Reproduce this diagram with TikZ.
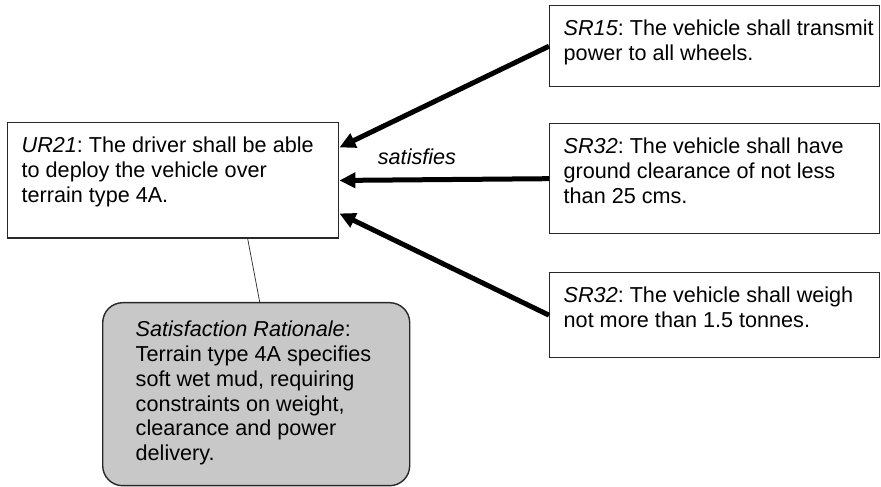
\documentclass[tikz,border=0pt]{standalone}
\usepackage{fontspec}
\setmainfont{Liberation Sans}
\usepackage{tikz}
\usetikzlibrary{arrows.meta,positioning,calc}

\definecolor{boxline}{RGB}{40,40,40}
\definecolor{ratfill}{RGB}{200,200,200}

\begin{document}
\frenchspacing
\begin{tikzpicture}[
    reqbox/.style={draw=boxline, thick, anchor=north west, inner sep=0pt,
        align=flush left, text height=0.6cm,
        font=\fontsize{12.3}{14.1}\selectfont,
        execute at begin node={\leftskip=0.28cm}},
    ratbox/.style={reqbox, fill=ratfill, rounded corners=0.4cm,
        text height=0.68cm,
        execute at begin node={\leftskip=0.66cm}},
    sat/.style={line width=0.1cm, -{Triangle[length=0.32cm,width=0.3cm]}}
]
    \useasboundingbox (0, 0) rectangle (17.62, 9.74);

    % User requirement
    \node[reqbox, text width=6.62cm, text depth=1.71cm] (ur21) at (0.14, 7.3)
        {\textit{UR21}: The driver shall be able\\ to deploy the vehicle over\\ terrain type 4A.};

    % System requirements
    \node[reqbox, text width=6.6cm, text depth=1.02cm] (sr15) at (10.98, 9.64)
        {\textit{SR15}: The vehicle shall transmit\\ power to all wheels.};
    \node[reqbox, text width=6.6cm, text depth=1.6cm] (sr32a) at (10.98, 7.28)
        {\textit{SR32}: The vehicle shall have\\ ground clearance of not less\\ than 25 cms.};
    \node[reqbox, text width=6.6cm, text depth=1.1cm] (sr32b) at (10.98, 4.3)
        {\textit{SR32}: The vehicle shall weigh\\ not more than 1.5 tonnes.};

    % Rationale
    \node[ratbox, text width=6.14cm, text depth=2.98cm] (rat) at (2.04, 3.7)
        {\textit{Satisfaction Rationale}:\\ Terrain type 4A specifies\\ soft wet mud, requiring\\ constraints on weight,\\ clearance and power\\ delivery.};

    % Satisfaction links
    \draw[sat] (sr15.west) -- ([yshift=0.66cm]ur21.east);
    \draw[sat] (sr32a.west) -- node[above=0.26cm, pos=0.63, inner sep=0pt,
        font=\fontsize{12.3}{14.1}\selectfont\itshape] {satisfies} (ur21.east);
    \draw[sat] (sr32b.west) -- ([yshift=-0.66cm]ur21.east);

    \draw[boxline] ([xshift=1.49cm]ur21.south) -- ([xshift=0.07cm]rat.north);
\end{tikzpicture}
\end{document}
